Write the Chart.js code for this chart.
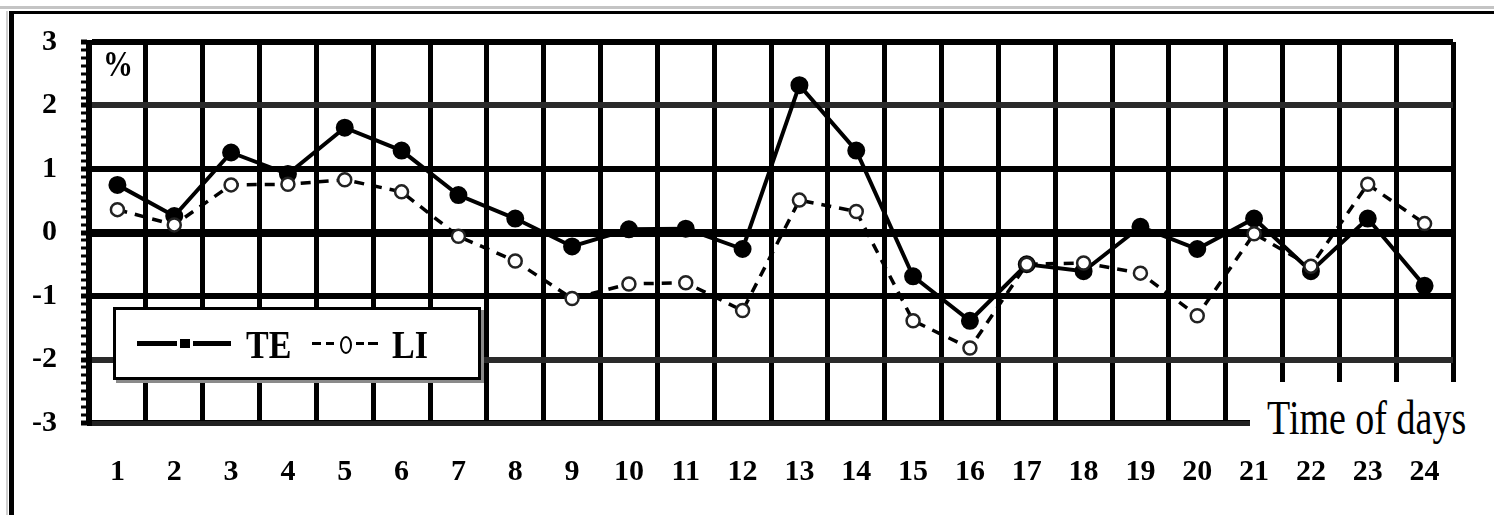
<!DOCTYPE html>
<html>
<head>
<meta charset="utf-8">
<script src="https://cdn.jsdelivr.net/npm/chart.js@4.4.1/dist/chart.umd.min.js"></script>
<style>
    body { margin: 0; background: #fff; }
    #wrap { position: relative; width: 1494px; height: 515px; overflow: hidden; }
    .topShade { position: absolute; left: 0; top: 6px; width: 1494px; height: 3px; background: #c4c4c4; }
    .frame { position: absolute; left: 9px; top: 11px; width: 1600px; height: 600px;
             border-top: 3px solid #000; border-left: 5px solid #000; }
    .leftShade { position: absolute; left: 6px; top: 11px; width: 2px; height: 510px; background: #d0d0d0; }
    canvas { position: absolute; left: 0; top: 0; }
    .serif { font-family: "Liberation Serif", "Times New Roman", serif; color: #000; }
    #unit { position: absolute; left: 103px; top: 44px; font-size: 30px; font-weight: bold;
            transform: scaleY(1.2); transform-origin: left top; }
    #xTitle { position: absolute; left: 1250px; top: 382px; width: 244px; height: 70px; background: #fff; }
    #xTitle span { position: absolute; left: 17px; top: 6px; font-size: 38px;
                   transform: scaleY(1.3); transform-origin: left top; white-space: nowrap; }
    #legend { position: absolute; left: 113px; top: 307px; width: 362px; height: 67px; background: #fff;
              border: 3px solid #000; box-shadow: 3px 3px 0 #8a8a8a; }
    #legend .ln { position: absolute; background: #000; }
    #legend .txt { position: absolute; top: 12px; font-size: 34px; font-weight: bold;
                   transform: scaleY(1.2); transform-origin: left top; }
    #legend .dot { position: absolute; left: 224px; top: 26px; width: 8px; height: 14px;
                   border: 2px solid #000; border-radius: 50%; background: #fff; }
</style>
</head>
<body>
<div id="wrap">
    <div class="topShade"></div>
    <div class="leftShade"></div>
    <div class="frame"></div>
    <canvas id="chart" width="1494" height="515"></canvas>
    <div id="unit" class="serif">%</div>
    <div id="xTitle" class="serif"><span>Time of days</span></div>
    <div id="legend" class="serif">
        <!-- TE sample: thick line with square marker -->
        <div class="ln" style="left:21px;top:31px;width:40px;height:5px;"></div>
        <div class="ln" style="left:64px;top:29px;width:10px;height:9px;"></div>
        <div class="ln" style="left:77px;top:31px;width:38px;height:5px;"></div>
        <div class="txt" style="left:130px;">TE</div>
        <!-- LI sample: dashed line with open circle -->
        <div class="ln" style="left:196px;top:32px;width:9px;height:3px;"></div>
        <div class="ln" style="left:210px;top:32px;width:8px;height:3px;"></div>
        <div class="dot"></div>
        <div class="ln" style="left:240px;top:32px;width:8px;height:3px;"></div>
        <div class="ln" style="left:252px;top:32px;width:10px;height:3px;"></div>
        <div class="txt" style="left:276px;">LI</div>
    </div>
</div>
<script>
// Daily deviations (%)
const days = ['1', '2', '3', '4', '5', '6', '7', '8', '9', '10', '11', '12',
              '13', '14', '15', '16', '17', '18', '19', '20', '21', '22', '23', '24'];
const teValues = [0.75, 0.26, 1.26, 0.92, 1.65, 1.29, 0.59, 0.22, -0.22, 0.05, 0.06, -0.26,
                  2.32, 1.29, -0.69, -1.39, -0.50, -0.61, 0.09, -0.26, 0.22, -0.61, 0.22, -0.84];
const liValues = [0.36, 0.12, 0.75, 0.76, 0.83, 0.64, -0.06, -0.45, -1.04, -0.81, -0.79, -1.23,
                  0.51, 0.33, -1.39, -1.82, -0.50, -0.48, -0.64, -1.31, -0.02, -0.53, 0.76, 0.14];
const yMin = -3;
const yMax = 3;

const tickFont = { family: '"Liberation Serif", "Times New Roman", serif', size: 30, weight: 'bold' };

const ctx = document.getElementById('chart').getContext('2d');
new Chart(ctx, {
    type: 'line',
    data: {
        labels: days,
        datasets: [
            {
                label: 'LI',
                data: liValues,
                borderColor: '#000',
                borderWidth: 3.5,
                borderDash: [10, 8],
                pointRadius: 6.5,
                pointBackgroundColor: '#fff',
                pointBorderColor: '#222',
                pointBorderWidth: 2.5,
                tension: 0
            },
            {
                label: 'TE',
                data: teValues,
                borderColor: '#000',
                borderWidth: 4,
                pointRadius: 7,
                pointBackgroundColor: '#000',
                pointBorderColor: '#000',
                tension: 0
            }
        ]
    },
    options: {
        responsive: false,
        animation: false,
        layout: { padding: { top: 38, right: 41, left: 0, bottom: 0 } },
        plugins: {
            legend: { display: false },
            tooltip: { enabled: false }
        },
        scales: {
            x: {
                offset: true,
                grid: { offset: true, color: '#000', lineWidth: 5, drawTicks: false },
                border: { display: true, color: '#222', width: 5 },
                ticks: { font: tickFont, color: '#000', padding: 31, maxRotation: 0, autoSkip: false },
                afterFit: (scale) => { scale.height = 92; }
            },
            y: {
                min: yMin,
                max: yMax,
                grid: {
                    color: (c) => (Math.abs(c.tick.value) === 2 ? '#2a2a2a' : '#000'),
                    lineWidth: (c) => {
                        const v = c.tick.value;
                        if (v === 0) return 8;
                        return Number.isInteger(v) ? 6 : 0;
                    },
                    tickWidth: (c) => (Number.isInteger(c.tick.value) ? 5 : 3),
                    tickColor: '#000',
                    tickLength: 8
                },
                border: { display: true, color: '#000', width: 5 },
                ticks: {
                    stepSize: 0.125,
                    autoSkip: false,
                    font: tickFont,
                    color: '#000',
                    padding: 24,
                    callback: (v) => (Number.isInteger(v) ? String(v) : '')
                },
                afterFit: (scale) => { scale.width = 89; }
            }
        }
    }
});
</script>
</body>
</html>
